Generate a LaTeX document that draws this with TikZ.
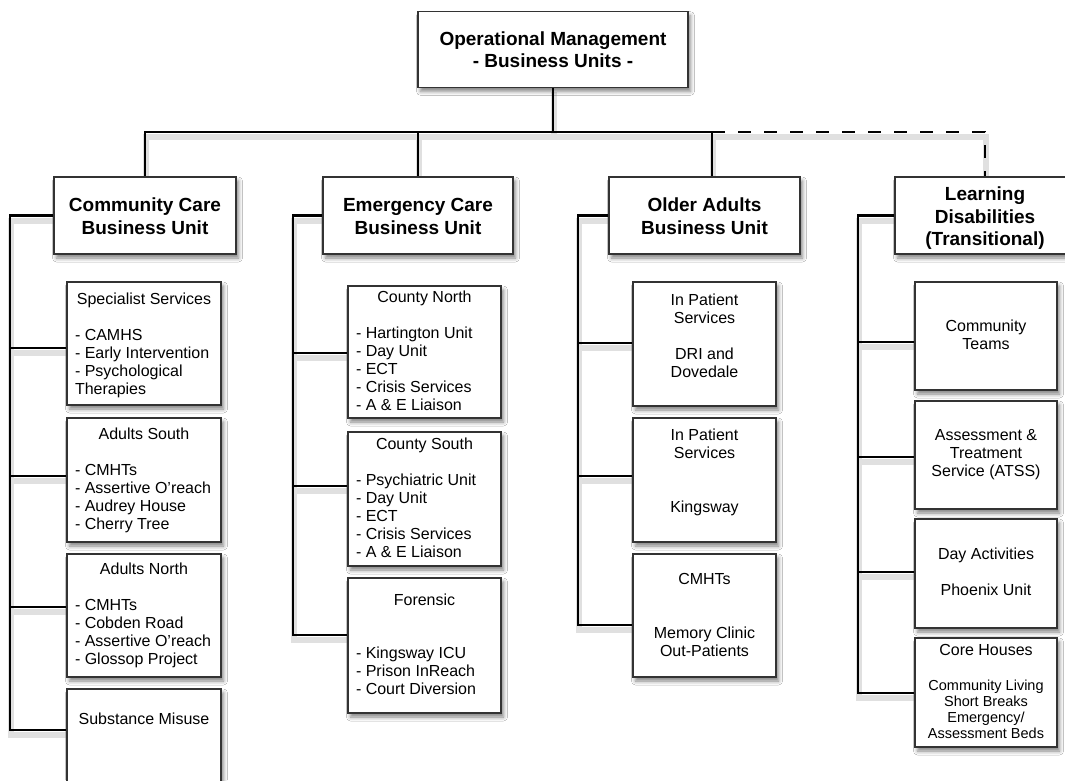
\documentclass[tikz,border=0pt]{standalone}
\usepackage{fontspec}
\setmainfont{Liberation Sans}
\usetikzlibrary{shadows.blur}
\pgfdeclarelayer{bg}
\pgfsetlayers{bg,main}
\newcommand\ttl[1]{\centering\rule{0pt}{15pt}#1\par}
\newcommand\lstm{\raggedright\leftskip=8pt\relax}
\newcommand\smallf{\fontsize{14.5}{16}\selectfont}
% style, name, x1, y1, x2, y2, first baseline, content
\newcommand\ubox[8]{\node[#1,anchor=north west] (#2) at (#3,#4) {\parbox[t][\dimexpr#6pt-#4pt\relax][t]{\dimexpr#5pt-#3pt\relax}{\vspace*{\dimexpr#7pt-15pt\relax}#8}};}
\tikzset{
  box/.style={draw=black!80, line width=1.4pt, fill=white, inner sep=0pt, outer sep=0pt,
    blur shadow={shadow xshift=2.5pt, shadow yshift=-4pt, shadow blur radius=4pt, shadow opacity=50},
    font=\fontsize{16}{18}\selectfont},
  head/.style={box, font=\bfseries\fontsize{19}{22.5}\selectfont},
  conn/.style={line width=2.6pt, black,
    preaction={draw=black!12, line width=6pt, transform canvas={shift={(1pt,-5pt)}}}},
  dconn/.style={conn, dash pattern=on 13pt off 13pt}
}
\begin{document}
\begin{tikzpicture}[x=1pt,y=-1pt]
\useasboundingbox (0,0) rectangle (1065,780);
\clip (0,0) rectangle (1065,780);

% top
\ubox{head}{top}{418}{11.7}{688}{87.3}{33.4}{\centering\rule{0pt}{15pt}Operational Management\\- Business Units -}

% level 2
\ubox{head}{cc}{54}{177}{236}{254}{34.8}{\centering\rule{0pt}{15pt}Community Care\\Business Unit}
\ubox{head}{ec}{323}{177}{513}{254}{34.8}{\centering\rule{0pt}{15pt}Emergency Care\\Business Unit}
\ubox{head}{oa}{609}{177}{800}{254}{34.8}{\centering\rule{0pt}{15pt}Older Adults\\Business Unit}
\ubox{head}{ld}{895}{177}{1075}{254}{23.8}{\centering\rule{0pt}{15pt}Learning\\Disabilities\\(Transitional)}

% community care children
\ubox{box}{cs1}{67}{282}{221}{405}{22}{\ttl{Specialist Services}\vspace{18pt}\lstm - CAMHS\\- Early Intervention\\- Psychological\\Therapies}
\ubox{box}{cs2}{67}{418}{221}{542}{21}{\ttl{Adults South}\vspace{18pt}\lstm - CMHTs\\- Assertive O'reach\\- Audrey House\\- Cherry Tree}
\ubox{box}{cs3}{67}{554}{221}{677}{20}{\ttl{Adults North}\vspace{18pt}\lstm - CMHTs\\- Cobden Road\\- Assertive O'reach\\- Glossop Project}
\ubox{box}{cs4}{67}{689}{221}{800}{35}{\ttl{Substance Misuse}}

% emergency care children
\ubox{box}{ec1}{348}{286}{501}{418}{16.4}{\ttl{County North}\vspace{18pt}\lstm - Hartington Unit\\- Day Unit\\- ECT\\- Crisis Services\\- A \& E Liaison}
\ubox{box}{ec2}{348}{432}{501}{566}{17}{\ttl{County South}\vspace{18pt}\lstm - Psychiatric Unit\\- Day Unit\\- ECT\\- Crisis Services\\- A \& E Liaison}
\ubox{box}{ec3}{348}{578}{501}{713}{27.7}{\ttl{Forensic}\vspace{34.7pt}\lstm - Kingsway ICU\\- Prison InReach\\- Court Diversion}

% older adults children
\ubox{box}{oa1}{633}{282}{776}{406}{23}{\centering\rule{0pt}{15pt}In Patient\\Services\par\vspace{18pt}DRI and\\Dovedale}
\ubox{box}{oa2}{633}{418}{776}{542}{22.7}{\centering\rule{0pt}{15pt}In Patient\\Services\par\vspace{36pt}Kingsway}
\ubox{box}{oa3}{633}{554}{776}{677}{30}{\centering\rule{0pt}{15pt}CMHTs\par\vspace{36.4pt}Memory Clinic\\Out-Patients}

% learning disabilities children
\ubox{box}{ld1}{915}{282}{1057}{390}{49.7}{\centering\rule{0pt}{15pt}Community\\Teams}
\ubox{box}{ld2}{915}{401}{1057}{509}{39.7}{\centering\rule{0pt}{15pt}Assessment \&\\Treatment\\Service (ATSS)}
\ubox{box}{ld3}{915}{519}{1057}{628}{40.7}{\centering\rule{0pt}{15pt}Day Activities\par\vspace{18pt}Phoenix Unit}
\ubox{box}{ld4}{915}{638}{1057}{747}{17.7}{\centering\rule{0pt}{15pt}Core Houses\par\vspace{18.5pt}\smallf Community Living\\Short Breaks\\Emergency/\\Assessment Beds}

\begin{pgfonlayer}{bg}
\fill[white] (0,0) rectangle (1065,780);
\coordinate (j1) at (145,132);
\coordinate (j3) at (712,132);
\coordinate (j4) at (985,132);
% top level
\draw[conn] (top.south) -- (top.south |- j1);
\draw[conn] (cc.north) -- (cc.north |- j1) -- (j3) -- (oa.north -| j3);
\draw[conn] (ec.north) -- (ec.north |- j1);
\draw[dconn] (j3) -- (j4) -- (ld.north -| j4);
% community spine
\coordinate (c1) at (10,348); \coordinate (c2) at (10,476);
\coordinate (c3) at (10,607); \coordinate (c4) at (10,730);
\draw[conn] (cc.west) -| (c4) -- (cs4.west |- c4);
\draw[conn] (cs1.west |- c1) -- (c1);
\draw[conn] (cs2.west |- c2) -- (c2);
\draw[conn] (cs3.west |- c3) -- (c3);
% emergency spine
\coordinate (e1) at (293,353); \coordinate (e2) at (293,486); \coordinate (e3) at (293,635);
\draw[conn] (ec.west) -| (e3) -- (ec3.west |- e3);
\draw[conn] (ec1.west |- e1) -- (e1);
\draw[conn] (ec2.west |- e2) -- (e2);
% older adults spine
\coordinate (o1) at (578,343); \coordinate (o2) at (578,476); \coordinate (o3) at (578,625);
\draw[conn] (oa.west) -| (o3) -- (oa3.west |- o3);
\draw[conn] (oa1.west |- o1) -- (o1);
\draw[conn] (oa2.west |- o2) -- (o2);
% learning disabilities spine
\coordinate (l1) at (858,342); \coordinate (l2) at (858,457);
\coordinate (l3) at (858,572); \coordinate (l4) at (858,693);
\draw[conn] (ld.west) -| (l4) -- (ld4.west |- l4);
\draw[conn] (ld1.west |- l1) -- (l1);
\draw[conn] (ld2.west |- l2) -- (l2);
\draw[conn] (ld3.west |- l3) -- (l3);
\end{pgfonlayer}
\end{tikzpicture}
\end{document}
